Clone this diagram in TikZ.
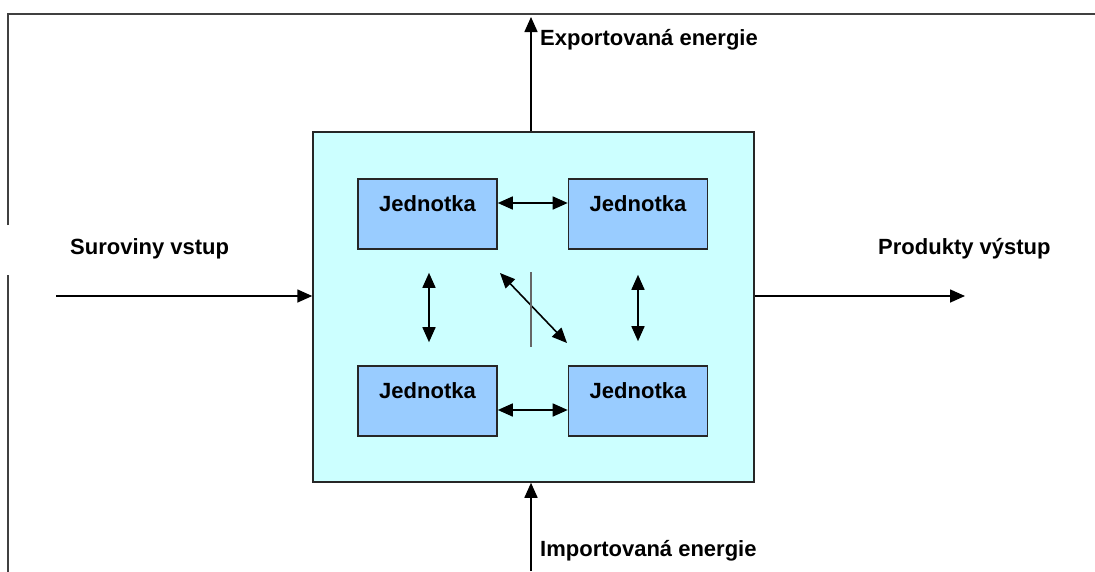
\documentclass[tikz,border=0pt]{standalone}
\usepackage{fontspec}
\setmainfont{Liberation Sans}
\usetikzlibrary{arrows.meta}
\definecolor{framegray}{HTML}{404040}
\definecolor{plantfill}{HTML}{CCFFFF}
\definecolor{unitfill}{HTML}{99CCFF}
\tikzset{
  plant/.style={draw=black!85, line width=1.5pt, fill=plantfill, minimum width=441pt, minimum height=350pt, inner sep=0pt},
  unit/.style={draw=black!85, line width=1.6pt, fill=unitfill, minimum width=139pt, minimum height=70pt, inner sep=0pt},
  unitlabel/.style={font=\fontsize{22}{26}\selectfont\bfseries, inner sep=0pt},
  lbl/.style={font=\fontsize{22}{26}\selectfont\bfseries, inner sep=0pt, anchor=west},
  tip/.style={Triangle[length=15pt,width=13pt]},
  flow/.style={line width=1.6pt, -{Triangle[length=15pt,width=13pt]}},
  link/.style={line width=1.6pt, {Triangle[length=15pt,width=13pt]}-{Triangle[length=15pt,width=13pt]}},
  border/.style={draw=framegray, line width=2.5pt}
}
\begin{document}
\begin{tikzpicture}[x=1pt,y=-1pt]
\useasboundingbox (0,0) rectangle (1095,571);
% surrounding frame
\draw[border] (8,225) -- (8,14) -- (1096,14);
\draw[border] (8,275) -- (8,572);
% plant boundary
\node[plant] (plant) at (533.5,307) {};
% process units
\node[unit] (tl) at (427.5,214) {};
\node[unit] (tr) at (638,214) {};
\node[unit] (bl) at (427.5,401) {};
\node[unit] (br) at (638,401) {};
\foreach \u in {tl,tr,bl,br}
  \node[unitlabel] at ([yshift=10pt]\u.center) {Jednotka};
% links between units
\draw[link] ([yshift=11pt]tl.east) -- ([yshift=11pt]tr.west);
\draw[link] ([yshift=-9pt]bl.east) -- ([yshift=-9pt]br.west);
\draw[link] ([xshift=1.5pt,yshift=-23pt]tl.south) -- ([xshift=1.5pt,yshift=23pt]bl.north);
\draw[link] ([yshift=-25pt]tr.south) -- ([yshift=24pt]br.north);
\coordinate (d1) at (500,273);
\coordinate (d2) at (567,343);
\draw[link] (d1) -- (d2);
\coordinate (c1) at (531,272);
\coordinate (c2) at (531,347);
\draw[line width=1.4pt, black!60] (c1) -- (c2);
% material and energy flows
\coordinate (in) at (56,296);
\coordinate (out) at (965,296);
\coordinate (exp) at (531,17);
\coordinate (imp) at (531,571);
\draw[flow] (in) -- (in -| plant.west);
\draw[flow] (out -| plant.east) -- (out);
\draw[flow] (exp |- plant.north) -- (exp);
\draw[flow] (imp) -- (imp |- plant.south);
% labels
\node[lbl] (lin) at (70,249) {Suroviny vstup};
\node[lbl] (lout) at (878,249) {Produkty výstup};
\node[lbl] (lexp) at (540,40) {Exportovaná energie};
\node[lbl] (limp) at (540,551) {Importovaná energie};
\end{tikzpicture}
\end{document}
